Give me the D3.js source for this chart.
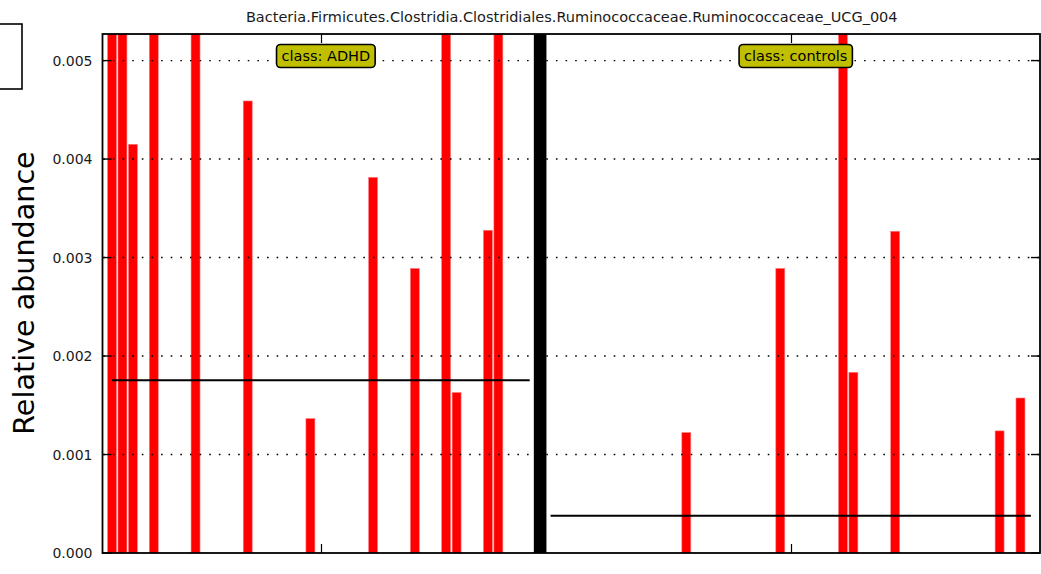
<!DOCTYPE html>
<html>
<head>
<meta charset="utf-8">
<script src="https://cdn.jsdelivr.net/npm/d3@7"></script>
<style>
  html, body { margin: 0; padding: 0; background: #fff; }
  svg { display: block; font-family: "DejaVu Sans", sans-serif; }
</style>
</head>
<body>
<svg id="chart" width="1041" height="574"></svg>
<script>
// Feature name shown as the title
const featureName = "Bacteria.Firmicutes.Clostridia.Clostridiales.Ruminococcaceae.Ruminococcaceae_UCG_004";

// Class names and per-sample relative abundances (one entry per sample, in plot order)
const classNames = ["ADHD", "controls"];

const adhdValues = [
  0.0112, 0.0095, 0.00415, 0, 0.0064, 0, 0, 0, 0.0087, 0,
  0, 0, 0, 0.00459, 0, 0, 0, 0, 0, 0.001365,
  0, 0, 0, 0, 0, 0.003815, 0, 0, 0, 0.00289,
  0, 0, 0.0078, 0.00163, 0, 0, 0.003277, 0.0066, 0, 0,
  0
];

const controlValues = [
  0, 0, 0, 0, 0, 0, 0, 0, 0, 0,
  0, 0, 0, 0.001223, 0, 0, 0, 0, 0, 0,
  0, 0, 0.00289, 0, 0, 0, 0, 0, 0.00569, 0.001835,
  0, 0, 0, 0.003267, 0, 0, 0, 0, 0, 0,
  0, 0, 0, 0.00124, 0, 0.001574, 0
];

const yTicks = [0, 0.001, 0.002, 0.003, 0.004, 0.005];
const yMax = 0.00527;

// Layout
const plot = { left: 102.5, right: 1040, top: 34, bottom: 553 };

const svg = d3.select("#chart");

// Samples laid out on one index axis, with a separator slot between classes
const groups = [];
let cursor = 0;
[adhdValues, controlValues].forEach((vals, gi) => {
  const start = cursor;
  const samples = vals.map((v, i) => ({ idx: start + i, value: v }));
  groups.push({ name: classNames[gi], start, end: start + vals.length - 1, samples,
                mean: d3.mean(vals) });
  cursor += vals.length + 1; // one slot for the separator
});
const separatorIdx = groups[0].end + 1;
const lastIdx = groups[1].end;

const x = d3.scaleLinear().domain([-0.91, lastIdx + 0.87]).range([plot.left, plot.right]);
const y = d3.scaleLinear().domain([0, yMax]).range([plot.bottom, plot.top]);
const step = x(1) - x(0);
const barW = step * 0.86;

svg.append("defs").append("clipPath").attr("id", "plotClip")
  .append("rect")
  .attr("x", plot.left).attr("y", plot.top)
  .attr("width", plot.right - plot.left).attr("height", plot.bottom - plot.top);

const inner = svg.append("g").attr("clip-path", "url(#plotClip)");

// Sample bars
groups.forEach(g => {
  inner.append("g").selectAll("rect")
    .data(g.samples.filter(s => s.value > 0))
    .join("rect")
    .attr("x", d => x(d.idx) - barW / 2)
    .attr("width", barW)
    .attr("y", d => y(d.value))
    .attr("height", d => y(0) - y(d.value))
    .attr("fill", "#ff0000")
    .attr("stroke", "#ff8080")
    .attr("stroke-width", 0.6);
});

// Dotted horizontal grid
inner.append("g").selectAll("line")
  .data(yTicks.filter(t => t > 0))
  .join("line")
  .attr("x1", plot.left).attr("x2", plot.right)
  .attr("y1", d => y(d)).attr("y2", d => y(d))
  .attr("stroke", "#000")
  .attr("stroke-width", 1.4)
  .attr("stroke-dasharray", "1.6,8.03")
  .attr("stroke-dashoffset", -0.8);

// Class separator
inner.append("rect")
  .attr("x", x(separatorIdx) - 6.3)
  .attr("width", 12.6)
  .attr("y", plot.top)
  .attr("height", plot.bottom - plot.top)
  .attr("fill", "#000");

// Class mean lines
inner.append("g").selectAll("line")
  .data(groups)
  .join("line")
  .attr("x1", d => x(d.start)).attr("x2", d => x(d.end))
  .attr("y1", d => y(d.mean)).attr("y2", d => y(d.mean))
  .attr("stroke", "#000")
  .attr("stroke-width", 2);

// Frame
svg.append("rect")
  .attr("x", plot.left).attr("y", plot.top)
  .attr("width", plot.right - plot.left).attr("height", plot.bottom - plot.top)
  .attr("fill", "none").attr("stroke", "#000").attr("stroke-width", 1.8);

// Y ticks (inward, both sides) and labels
const tickLen = 9;
const yt = svg.append("g");
yTicks.forEach(t => {
  yt.append("line").attr("x1", plot.left).attr("x2", plot.left + tickLen)
    .attr("y1", y(t)).attr("y2", y(t)).attr("stroke", "#000").attr("stroke-width", 1.4);
  yt.append("line").attr("x1", plot.right - tickLen).attr("x2", plot.right)
    .attr("y1", y(t)).attr("y2", y(t)).attr("stroke", "#000").attr("stroke-width", 1.4);
  yt.append("text")
    .attr("x", plot.left - 10).attr("y", y(t))
    .attr("dy", "0.36em")
    .attr("text-anchor", "end")
    .attr("font-size", 14)
    .attr("fill", "#1a1a1a")
    .text(d3.format(".3f")(t));
});

// X ticks at the class centres (top and bottom, no labels)
groups.forEach(g => {
  const cx = Math.round(x((g.start + g.end) / 2)) + 0.5;
  svg.append("line").attr("x1", cx).attr("x2", cx)
    .attr("y1", plot.bottom).attr("y2", plot.bottom - tickLen)
    .attr("stroke", "#000").attr("stroke-width", 1.2);
  svg.append("line").attr("x1", cx).attr("x2", cx)
    .attr("y1", plot.top).attr("y2", plot.top + tickLen)
    .attr("stroke", "#000").attr("stroke-width", 1.2);
});

// Class labels in rounded boxes
groups.forEach(g => {
  const cx = x((g.start + g.end) / 2) + 5;
  const lab = svg.append("g");
  const txt = lab.append("text")
    .attr("x", cx).attr("y", 56)
    .attr("dy", "0.36em")
    .attr("text-anchor", "middle")
    .attr("font-size", 14.5)
    .attr("fill", "#000")
    .text("class: " + g.name);
  const bb = txt.node().getBBox();
  lab.insert("rect", "text")
    .attr("x", bb.x - 5).attr("y", 44.5)
    .attr("width", bb.width + 10).attr("height", 23)
    .attr("rx", 4).attr("ry", 4)
    .attr("fill", "#bfbf00")
    .attr("stroke", "#000").attr("stroke-width", 1.6);
});

// Title
svg.append("text")
  .attr("x", (plot.left + plot.right) / 2 + 0.5).attr("y", 22)
  .attr("text-anchor", "middle")
  .attr("font-size", 14.5)
  .attr("fill", "#1a1a1a")
  .text(featureName);

// Y axis title
svg.append("text")
  .attr("transform", `translate(34,${(plot.top + plot.bottom) / 2 - 0.5}) rotate(-90)`)
  .attr("text-anchor", "middle")
  .attr("font-size", 28.6)
  .attr("fill", "#000")
  .text("Relative abundance");

// Legend frame partly outside the figure
svg.append("rect")
  .attr("x", -10).attr("y", 24)
  .attr("width", 32).attr("height", 65)
  .attr("fill", "#fff").attr("stroke", "#000").attr("stroke-width", 1.6);
</script>
</body>
</html>
